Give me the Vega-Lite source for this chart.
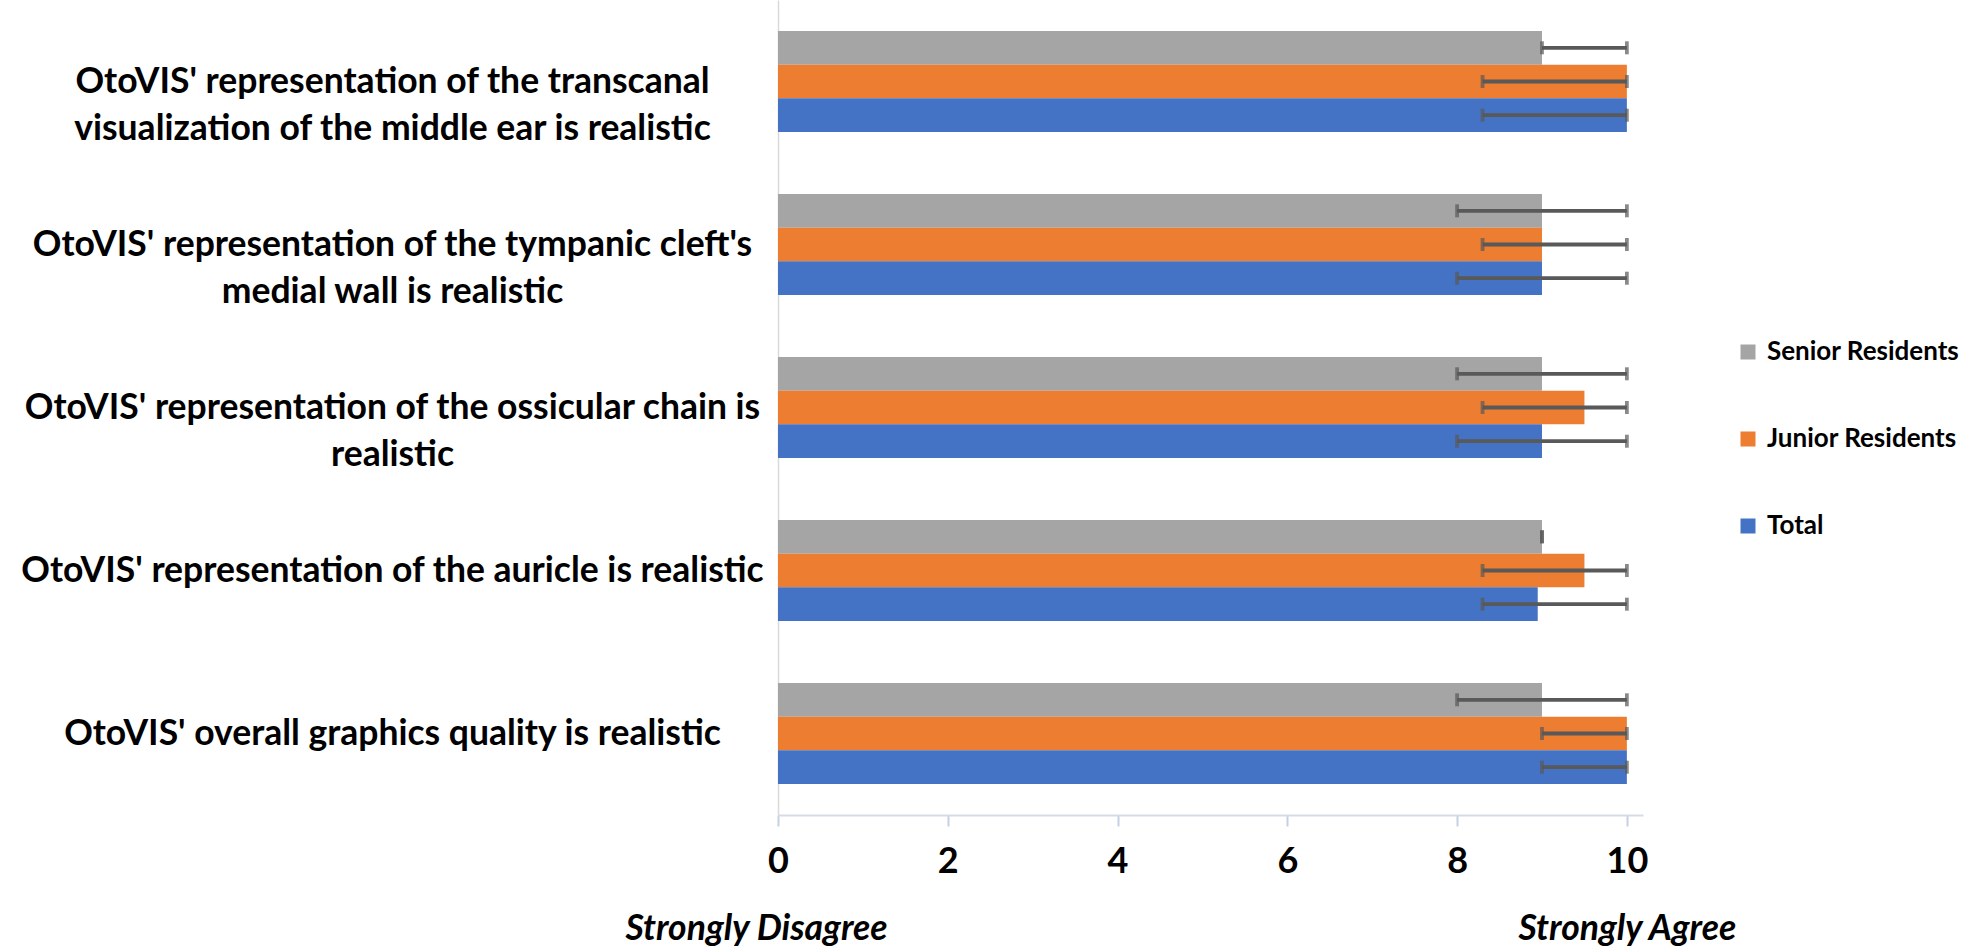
{
  "$schema": "https://vega.github.io/schema/vega-lite/v6.json",
  "width": 865,
  "height": 815,
  "autosize": {"type": "none"},
  "padding": {"left": 778, "top": 0, "right": 318, "bottom": 136},
  "background": "white",
  "config": {"view": {"stroke": null}, "font": "Lato, sans-serif"},
  "datasets": {
    "scores": [
      {"q": "OtoVIS' representation of the transcanal\nvisualization of the middle ear is realistic", "grp": "Senior Residents", "mean": 9, "lo": 9, "hi": 10},
      {"q": "OtoVIS' representation of the transcanal\nvisualization of the middle ear is realistic", "grp": "Junior Residents", "mean": 10, "lo": 8.3, "hi": 10},
      {"q": "OtoVIS' representation of the transcanal\nvisualization of the middle ear is realistic", "grp": "Total", "mean": 10, "lo": 8.3, "hi": 10},
      {"q": "OtoVIS' representation of the tympanic cleft's\nmedial wall is realistic", "grp": "Senior Residents", "mean": 9, "lo": 8, "hi": 10},
      {"q": "OtoVIS' representation of the tympanic cleft's\nmedial wall is realistic", "grp": "Junior Residents", "mean": 9, "lo": 8.3, "hi": 10},
      {"q": "OtoVIS' representation of the tympanic cleft's\nmedial wall is realistic", "grp": "Total", "mean": 9, "lo": 8, "hi": 10},
      {"q": "OtoVIS' representation of the ossicular chain is\nrealistic", "grp": "Senior Residents", "mean": 9, "lo": 8, "hi": 10},
      {"q": "OtoVIS' representation of the ossicular chain is\nrealistic", "grp": "Junior Residents", "mean": 9.5, "lo": 8.3, "hi": 10},
      {"q": "OtoVIS' representation of the ossicular chain is\nrealistic", "grp": "Total", "mean": 9, "lo": 8, "hi": 10},
      {"q": "OtoVIS' representation of the auricle is realistic", "grp": "Senior Residents", "mean": 9, "lo": 9, "hi": 9},
      {"q": "OtoVIS' representation of the auricle is realistic", "grp": "Junior Residents", "mean": 9.5, "lo": 8.3, "hi": 10},
      {"q": "OtoVIS' representation of the auricle is realistic", "grp": "Total", "mean": 8.95, "lo": 8.3, "hi": 10},
      {"q": "OtoVIS' overall graphics quality is realistic", "grp": "Senior Residents", "mean": 9, "lo": 8, "hi": 10},
      {"q": "OtoVIS' overall graphics quality is realistic", "grp": "Junior Residents", "mean": 10, "lo": 9, "hi": 10},
      {"q": "OtoVIS' overall graphics quality is realistic", "grp": "Total", "mean": 10, "lo": 9, "hi": 10}
    ],
    "ends": [
      {"end": "Strongly Disagree", "v": 0},
      {"end": "Strongly Agree", "v": 10}
    ]
  },
  "layer": [
    {
      "data": {"name": "scores"},
      "encoding": {
        "y": {
          "field": "q",
          "type": "nominal",
          "title": null,
          "sort": [
            "OtoVIS' representation of the transcanal\nvisualization of the middle ear is realistic",
            "OtoVIS' representation of the tympanic cleft's\nmedial wall is realistic",
            "OtoVIS' representation of the ossicular chain is\nrealistic",
            "OtoVIS' representation of the auricle is realistic",
            "OtoVIS' overall graphics quality is realistic"
          ],
          "scale": {"paddingInner": 0.38, "paddingOuter": 0.19},
          "axis": {
            "domainColor": "#D9D9D9",
            "domainWidth": 1.5,
            "ticks": false,
            "grid": false,
            "labelExpr": "split(datum.label, '\\n')",
            "labelAlign": "center",
            "labelBaseline": "middle",
            "labelPadding": 386,
            "labelLimit": 0,
            "labelFontSize": 35.5,
            "labelFontWeight": "bold",
            "labelColor": "#000000",
            "labelLineHeight": 47
          }
        },
        "yOffset": {
          "field": "grp",
          "type": "nominal",
          "sort": ["Senior Residents", "Junior Residents", "Total"],
          "scale": {"paddingInner": 0, "paddingOuter": 0}
        }
      },
      "layer": [
        {
          "mark": {"type": "bar"},
          "encoding": {
            "x": {
              "field": "mean",
              "type": "quantitative",
              "title": null,
              "scale": {"domain": [0, 10.19], "nice": false, "zero": true},
              "axis": {
                "orient": "bottom",
                "values": [0, 2, 4, 6, 8, 10],
                "format": "d",
                "grid": false,
                "domainColor": "#D6DCE5",
                "domainWidth": 2,
                "tickColor": "#C5D0E3",
                "tickSize": 11,
                "tickWidth": 2,
                "labelFlush": false,
                "labelFontSize": 36,
                "labelFontWeight": "bold",
                "labelColor": "#000000",
                "labelPadding": 18
              }
            },
            "color": {
              "field": "grp",
              "type": "nominal",
              "title": null,
              "scale": {
                "domain": ["Senior Residents", "Junior Residents", "Total"],
                "range": ["#A5A5A5", "#ED7D31", "#4472C4"]
              },
              "legend": {
                "orient": "none",
                "legendX": 957,
                "legendY": 339,
                "direction": "vertical",
                "symbolType": "square",
                "symbolSize": 225,
                "symbolStrokeWidth": 0,
                "labelFontSize": 26,
                "labelFontWeight": "bold",
                "labelColor": "#000000",
                "labelOffset": 6,
                "labelLimit": 0,
                "rowPadding": 61,
                "padding": 0
              }
            }
          }
        },
        {
          "mark": {"type": "rule", "color": "#595959", "strokeWidth": 3.8},
          "encoding": {
            "x": {"field": "lo", "type": "quantitative", "title": null},
            "x2": {"field": "hi"}
          }
        },
        {
          "mark": {"type": "tick", "color": "#595959", "size": 13, "thickness": 3.8},
          "encoding": {
            "x": {"field": "lo", "type": "quantitative", "title": null}
          }
        },
        {
          "mark": {"type": "tick", "color": "#595959", "size": 13, "thickness": 3.8},
          "encoding": {
            "x": {"field": "hi", "type": "quantitative", "title": null}
          }
        }
      ]
    },
    {
      "data": {"name": "ends"},
      "mark": {"type": "rule", "opacity": 0},
      "encoding": {
        "x": {
          "field": "v",
          "type": "quantitative",
          "title": null,
          "axis": {
            "orient": "bottom",
            "values": [0, 10],
            "labelExpr": "datum.value == 0 ? 'Strongly Disagree' : 'Strongly Agree'",
            "domain": false,
            "ticks": false,
            "grid": false,
            "labelFlush": false,
            "labelLimit": 0,
            "labelFontSize": 35.5,
            "labelFontWeight": "bold",
            "labelFontStyle": "italic",
            "labelColor": "#000000",
            "labelPadding": 96,
            "labelOffset": {"condition": {"test": "datum.value == 0", "value": -22}, "value": 0}
          }
        }
      }
    }
  ],
  "resolve": {"axis": {"x": "independent"}}
}
